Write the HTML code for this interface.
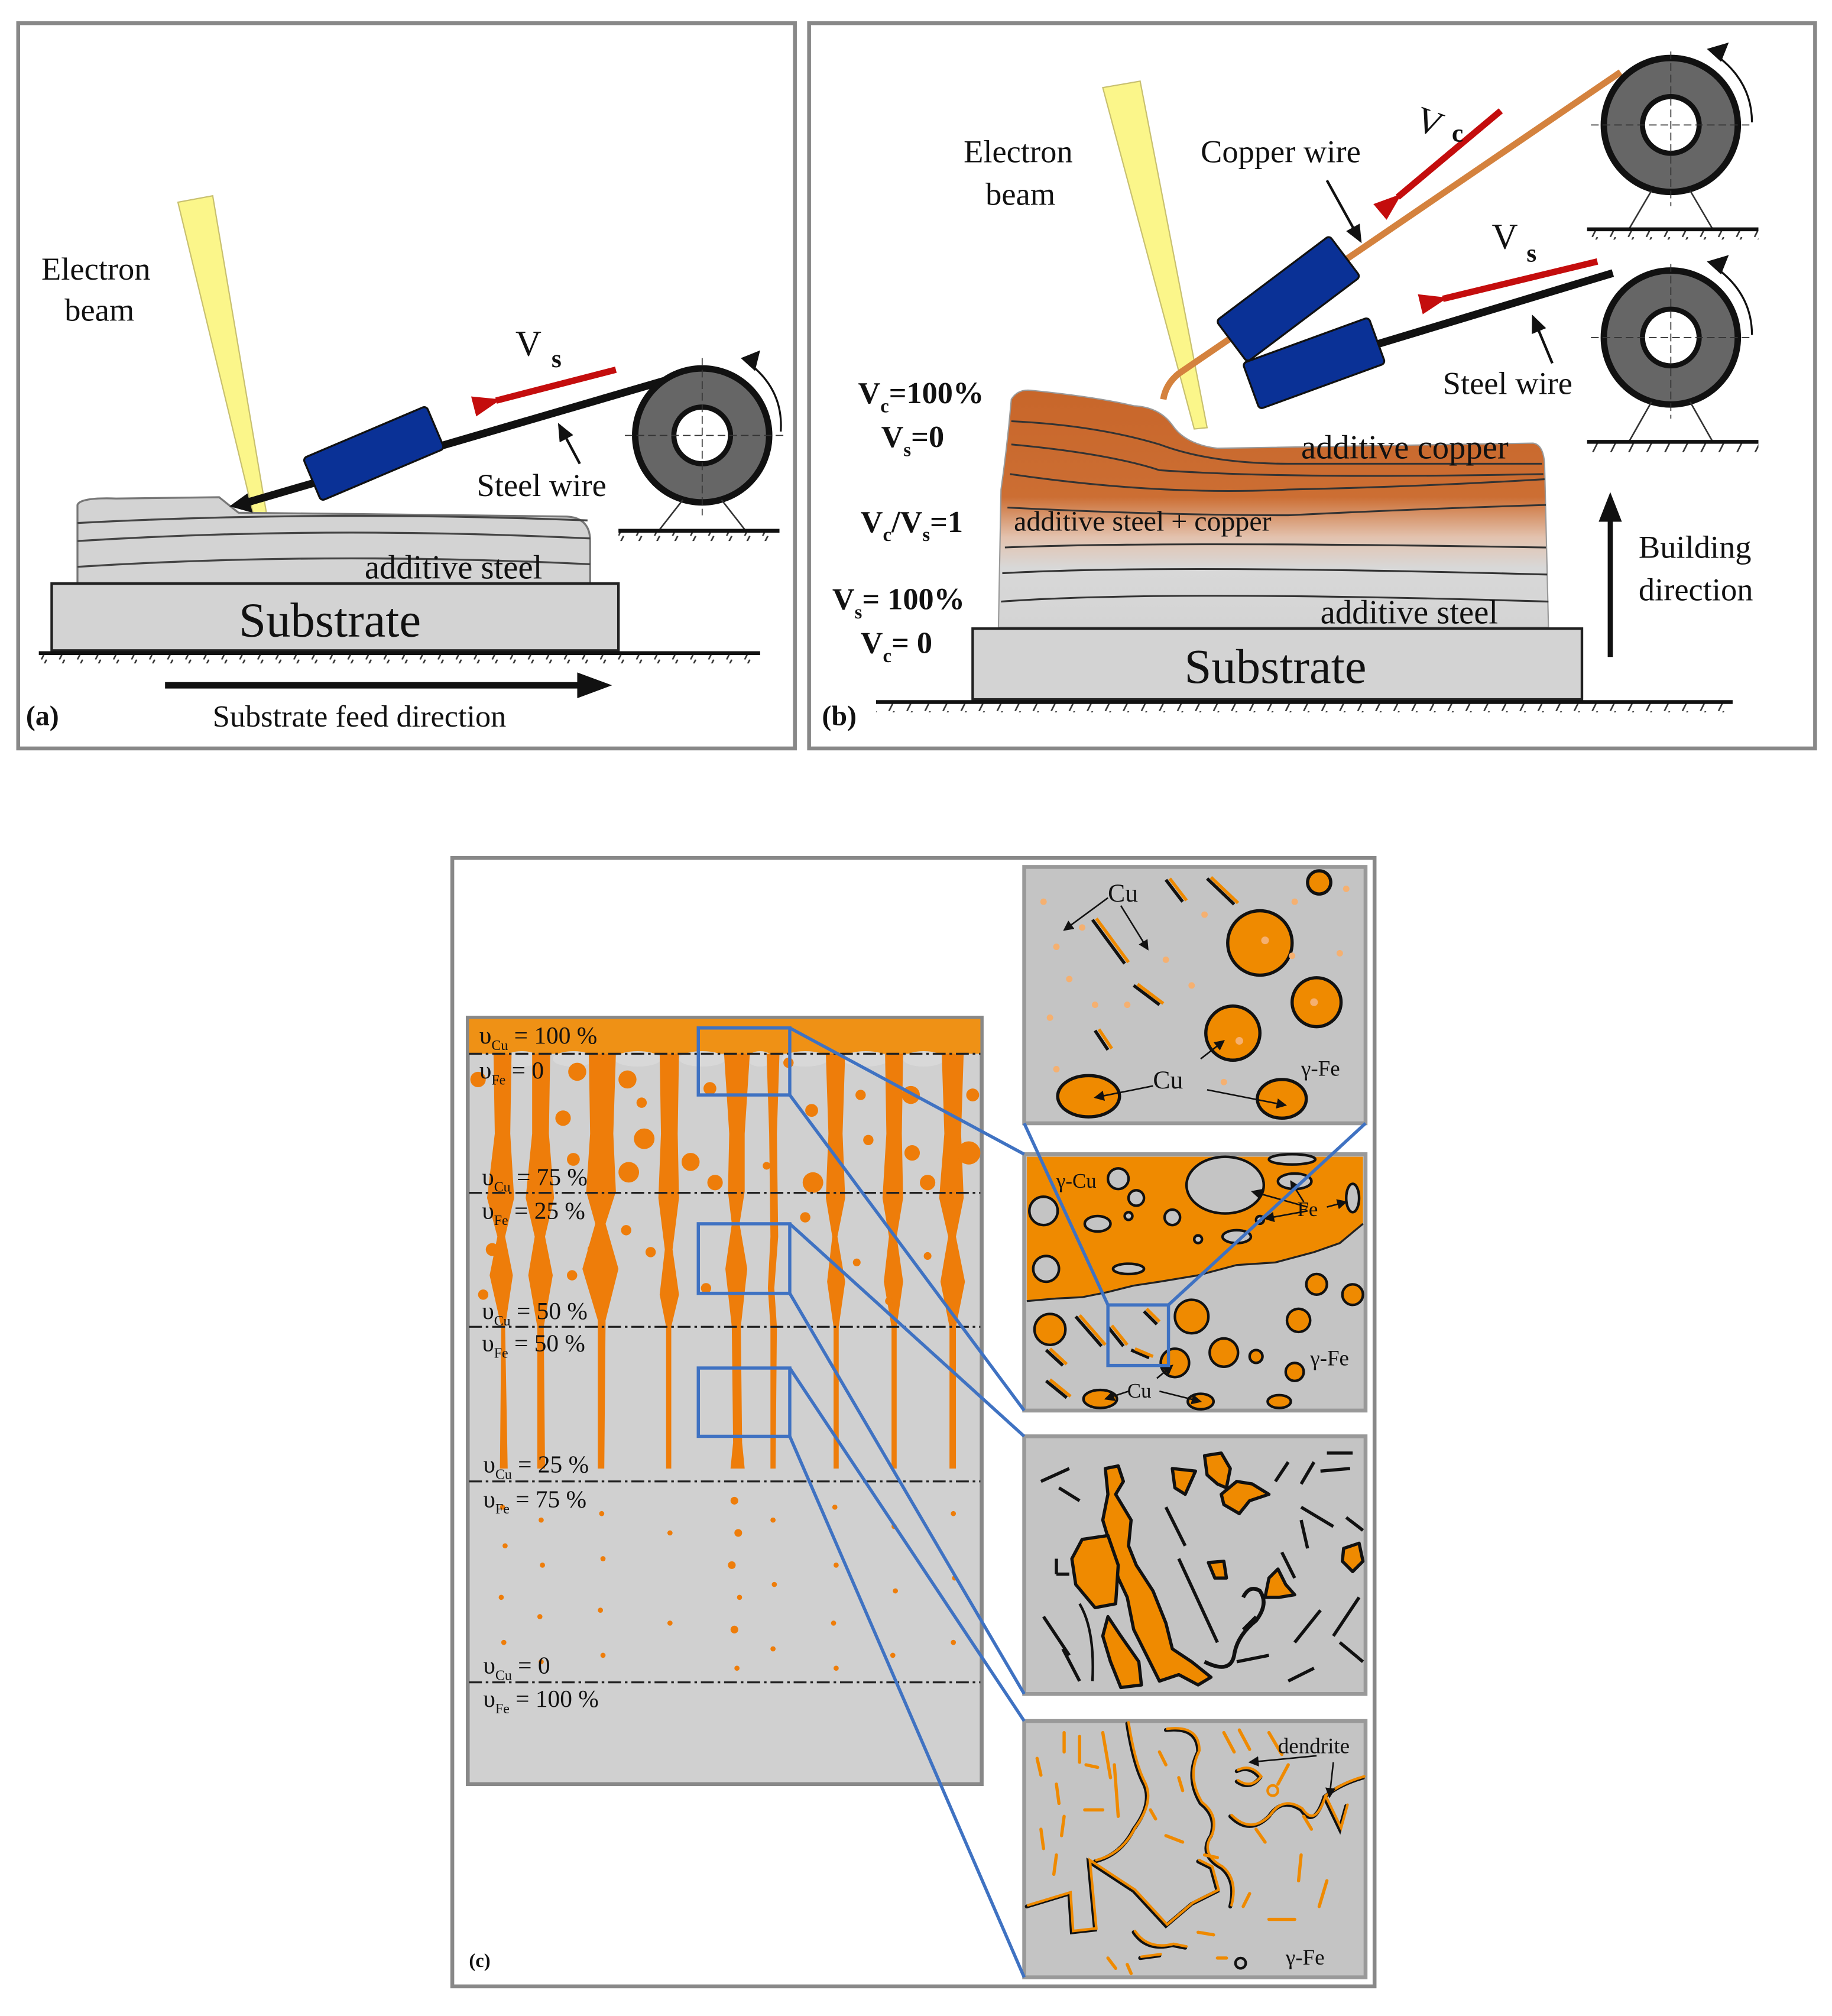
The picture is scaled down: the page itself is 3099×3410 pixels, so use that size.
<!DOCTYPE html>
<html><head><meta charset="utf-8">
<style>html,body{margin:0;padding:0;background:#fff}svg{display:block}
text{font-family:"Liberation Serif",serif;fill:#111}</style></head>
<body>
<svg xmlns="http://www.w3.org/2000/svg" width="3099" height="3410" viewBox="0 0 1422 1565">
<defs>
<pattern id="hatch" width="14" height="8" patternUnits="userSpaceOnUse"><line x1="8" y1="0" x2="4" y2="8" stroke="#333" stroke-width="1.2"/></pattern>
<linearGradient id="cu" x1="0" y1="0" x2="0" y2="1">
<stop offset="0" stop-color="#c8662a"/><stop offset="0.45" stop-color="#cc6e33"/><stop offset="0.62" stop-color="#e3c2ae"/><stop offset="0.75" stop-color="#d8d8d8"/><stop offset="1" stop-color="#d4d4d4"/></linearGradient>
<marker id="ak" markerWidth="8" markerHeight="8" refX="7" refY="4" orient="auto" markerUnits="userSpaceOnUse"><path d="M0,0 L8,4 L0,8 z" fill="#111"/></marker>
<marker id="ak2" markerWidth="14" markerHeight="12" refX="12" refY="6" orient="auto" markerUnits="userSpaceOnUse"><path d="M0,0 L14,6 L0,12 z" fill="#111"/></marker>
<marker id="ar" markerWidth="22" markerHeight="16" refX="4" refY="8" orient="auto" markerUnits="userSpaceOnUse"><path d="M22,0 L0,8 L22,16 z" fill="#c40d0d"/></marker>
</defs>
<rect width="1422" height="1565" fill="#fff"/>

<!-- ============ PANEL A ============ -->
<rect x="14" y="18" width="603" height="563" fill="#fff" stroke="#888" stroke-width="3"/>
<polygon points="138,157 165,152 207,400 197,401" fill="#fbf68a" stroke="#c8c070" stroke-width="1"/>
<text x="32" y="217" font-size="25">Electron</text>
<text x="50" y="249" font-size="25">beam</text>
<!-- steel layers -->
<path d="M60,455 L60,392 Q62,386 90,387 L170,386 L185,398 L440,401 Q458,402 458,420 L458,455 Z" fill="#d3d3d3" stroke="#777" stroke-width="1.5"/>
<path d="M60,420 Q250,408 458,418 M60,440 Q250,428 458,438 M60,406 Q250,396 456,404" fill="none" stroke="#444" stroke-width="1.5"/>
<text x="283" y="449" font-size="26">additive steel</text>
<rect x="40" y="453" width="440" height="52" fill="#d3d3d3" stroke="#222" stroke-width="2"/>
<text x="256" y="494" font-size="38" text-anchor="middle">Substrate</text>
<rect x="30" y="507" width="560" height="8" fill="url(#hatch)"/>
<line x1="30" y1="507" x2="590" y2="507" stroke="#111" stroke-width="3"/>
<line x1="128" y1="532" x2="452" y2="532" stroke="#111" stroke-width="5"/>
<polygon points="448,522 475,532 448,542" fill="#111"/>
<text x="165" y="564" font-size="24">Substrate feed direction</text>
<text x="20" y="563" font-size="22" font-weight="bold">(a)</text>
<!-- wire & nozzle -->
<line x1="185" y1="392" x2="545" y2="287" stroke="#111" stroke-width="6"/>
<polygon points="178,393 192,383 196,398" fill="#111"/>
<g transform="translate(290,352) rotate(-23)"><rect x="-52" y="-18" width="104" height="36" rx="3" fill="#0a3196" stroke="#111" stroke-width="1.5"/></g>
<circle cx="545" cy="338" r="52" fill="#666" stroke="#111" stroke-width="5"/>
<circle cx="545" cy="338" r="22" fill="#fff" stroke="#111" stroke-width="4"/>
<line x1="485" y1="338" x2="610" y2="338" stroke="#333" stroke-width="0.8" stroke-dasharray="6,3"/>
<line x1="545" y1="278" x2="545" y2="400" stroke="#333" stroke-width="0.8" stroke-dasharray="6,3"/>
<path d="M530,388 L512,411 M560,388 L578,411" stroke="#333" stroke-width="1.2"/>
<rect x="480" y="412" width="125" height="8" fill="url(#hatch)"/>
<line x1="480" y1="412" x2="605" y2="412" stroke="#111" stroke-width="3"/>
<path d="M585,285 Q608,305 606,335" fill="none" stroke="#111" stroke-width="1.5"/>
<polygon points="575,278 590,272 586,288" fill="#111"/>
<line x1="478" y1="287" x2="385" y2="311" stroke="#c40d0d" stroke-width="5" marker-end="url(#ar)"/>
<text x="400" y="276" font-size="28">V</text><text x="428" y="285" font-size="20" font-weight="bold">s</text>
<line x1="450" y1="360" x2="434" y2="330" stroke="#111" stroke-width="2" marker-end="url(#ak2)"/>
<text x="370" y="385" font-size="25">Steel wire</text>

<!-- ============ PANEL B ============ -->
<rect x="628" y="18" width="781" height="563" fill="#fff" stroke="#888" stroke-width="3"/>
<polygon points="856,68 885,63 937,332 927,333" fill="#fbf68a" stroke="#c8c070" stroke-width="1"/>
<text x="748" y="126" font-size="25">Electron</text>
<text x="765" y="159" font-size="25">beam</text>
<!-- deposit -->
<path d="M775,487 L777,380 Q782,345 785,310 Q790,302 800,303 Q850,308 880,315 Q900,316 910,330 Q920,345 945,348 L1190,344 Q1198,345 1199,360 L1202,487 Z" fill="url(#cu)" stroke="#999" stroke-width="1"/>
<g fill="none" stroke="#333" stroke-width="1.4">
<path d="M785,327 Q850,330 900,345 Q940,360 1000,360 L1197,360"/>
<path d="M785,345 Q860,352 900,365 Q1000,372 1198,368"/>
<path d="M784,368 Q900,385 1000,380 Q1100,378 1199,372"/>
<path d="M782,394 Q900,400 1000,400 Q1100,395 1200,392"/>
<path d="M780,425 Q900,420 1200,425"/>
<path d="M778,445 Q900,438 1201,446"/>
<path d="M777,467 Q900,458 1202,467"/>
</g>
<text x="1010" y="356" font-size="26">additive copper</text>
<text x="787" y="412" font-size="22" fill="#333">additive steel + copper</text>
<text x="1025" y="484" font-size="26">additive steel</text>
<rect x="755" y="488" width="473" height="55" fill="#d3d3d3" stroke="#222" stroke-width="2"/>
<text x="990" y="530" font-size="38" text-anchor="middle">Substrate</text>
<rect x="680" y="545" width="665" height="8" fill="url(#hatch)"/>
<line x1="680" y1="545" x2="1345" y2="545" stroke="#111" stroke-width="3"/>
<text x="638" y="563" font-size="22" font-weight="bold">(b)</text>
<!-- left labels -->
<g font-size="24" font-weight="bold">
<text x="666" y="313">V<tspan font-size="15" dy="7">c</tspan><tspan dy="-7">=100%</tspan></text>
<text x="684" y="347">V<tspan font-size="15" dy="7">s</tspan><tspan dy="-7">=0</tspan></text>
<text x="668" y="413">V<tspan font-size="15" dy="7">c</tspan><tspan dy="-7">/V</tspan><tspan font-size="15" dy="7">s</tspan><tspan dy="-7">=1</tspan></text>
<text x="646" y="473">V<tspan font-size="15" dy="7">s</tspan><tspan dy="-7">= 100%</tspan></text>
<text x="668" y="507">V<tspan font-size="15" dy="7">c</tspan><tspan dy="-7">= 0</tspan></text>
</g>
<!-- building direction -->
<line x1="1250" y1="510" x2="1250" y2="400" stroke="#111" stroke-width="4"/>
<polygon points="1241,405 1250,382 1259,405" fill="#111"/>
<text x="1272" y="433" font-size="25">Building</text>
<text x="1272" y="466" font-size="25">direction</text>
<!-- wires -->
<path d="M903,310 Q905,298 915,290 L1258,56" fill="none" stroke="#d4823e" stroke-width="5"/>
<line x1="1020" y1="282" x2="1252" y2="212" stroke="#111" stroke-width="6"/>
<g transform="translate(1000,232) rotate(-37)"><rect x="-55" y="-20" width="110" height="40" rx="3" fill="#0a3196" stroke="#111" stroke-width="1.5"/></g>
<g transform="translate(1020,282) rotate(-20)"><rect x="-52" y="-19" width="104" height="38" rx="3" fill="#0a3196" stroke="#111" stroke-width="1.5"/></g>
<!-- wheels -->
<g>
<circle cx="1297" cy="97" r="52" fill="#666" stroke="#111" stroke-width="5"/>
<circle cx="1297" cy="97" r="22" fill="#fff" stroke="#111" stroke-width="4"/>
<line x1="1235" y1="97" x2="1360" y2="97" stroke="#333" stroke-width="0.8" stroke-dasharray="6,3"/>
<line x1="1297" y1="40" x2="1297" y2="160" stroke="#333" stroke-width="0.8" stroke-dasharray="6,3"/>
<path d="M1282,148 L1265,177 M1312,148 L1329,177" stroke="#333" stroke-width="1.2"/>
<rect x="1232" y="178" width="133" height="8" fill="url(#hatch)"/>
<line x1="1232" y1="178" x2="1365" y2="178" stroke="#111" stroke-width="3"/>
<path d="M1335,45 Q1360,65 1360,95" fill="none" stroke="#111" stroke-width="1.5"/>
<polygon points="1325,38 1342,33 1336,48" fill="#111"/>
</g>
<g>
<circle cx="1297" cy="262" r="52" fill="#666" stroke="#111" stroke-width="5"/>
<circle cx="1297" cy="262" r="22" fill="#fff" stroke="#111" stroke-width="4"/>
<line x1="1235" y1="262" x2="1360" y2="262" stroke="#333" stroke-width="0.8" stroke-dasharray="6,3"/>
<line x1="1297" y1="205" x2="1297" y2="325" stroke="#333" stroke-width="0.8" stroke-dasharray="6,3"/>
<path d="M1282,312 L1265,342 M1312,312 L1329,342" stroke="#333" stroke-width="1.2"/>
<rect x="1232" y="343" width="133" height="8" fill="url(#hatch)"/>
<line x1="1232" y1="343" x2="1365" y2="343" stroke="#111" stroke-width="3"/>
<path d="M1335,210 Q1360,230 1360,260" fill="none" stroke="#111" stroke-width="1.5"/>
<polygon points="1325,203 1342,198 1336,213" fill="#111"/>
</g>
<line x1="1165" y1="86" x2="1085" y2="153" stroke="#c40d0d" stroke-width="5" marker-end="url(#ar)"/>
<line x1="1240" y1="203" x2="1120" y2="232" stroke="#c40d0d" stroke-width="5" marker-end="url(#ar)"/>
<text x="1097" y="100" font-size="28" transform="rotate(20 1097 100)">V</text><text x="1127" y="110" font-size="20" font-weight="bold">c</text>
<text x="1158" y="193" font-size="28">V</text><text x="1185" y="203" font-size="20" font-weight="bold">s</text>
<text x="932" y="126" font-size="25">Copper wire</text>
<line x1="1030" y1="140" x2="1056" y2="187" stroke="#111" stroke-width="2" marker-end="url(#ak2)"/>
<text x="1120" y="306" font-size="25">Steel wire</text>
<line x1="1205" y1="282" x2="1190" y2="246" stroke="#111" stroke-width="2" marker-end="url(#ak2)"/>

<!-- ============ PANEL C ============ -->
<rect x="351" y="666" width="716" height="876" fill="#fff" stroke="#888" stroke-width="3"/>
<rect x="363" y="790" width="399" height="595" fill="#d0d0d0" stroke="#888" stroke-width="3"/>
<rect x="364" y="791" width="397" height="27" fill="#ef9115"/>
<!-- scalloped gray under band -->
<g fill="#d8d8d8">
<ellipse cx="405" cy="822" rx="14" ry="6"/><ellipse cx="445" cy="822" rx="16" ry="6"/><ellipse cx="495" cy="822" rx="18" ry="6"/>
<ellipse cx="545" cy="822" rx="18" ry="6"/><ellipse cx="590" cy="822" rx="10" ry="6"/><ellipse cx="625" cy="822" rx="18" ry="6"/>
<ellipse cx="672" cy="822" rx="18" ry="6"/><ellipse cx="717" cy="822" rx="16" ry="6"/>
</g>
<!-- dendrite columns -->
<g fill="#ee7d0a">
<path d="M383,818 L397,818 L396,880 L399,930 L392,960 L398,990 L392,1030 L394,1140 L388,1140 L389,1030 L380,990 L386,960 L378,930 L384,880 Z"/>
<path d="M413,818 L427,818 L426,880 L430,930 L423,960 L429,990 L422,1030 L423,1140 L417,1140 L417,1030 L410,990 L415,960 L408,930 L413,880 Z"/>
<path d="M457,818 L478,818 L476,880 L478,925 L470,950 L480,985 L470,1025 L469,1140 L464,1140 L464,1025 L452,985 L462,950 L455,925 L458,880 Z"/>
<path d="M512,818 L527,818 L526,880 L527,930 L522,970 L527,1005 L521,1030 L521,1140 L517,1140 L517,1030 L512,1005 L516,970 L511,930 L513,880 Z"/>
<path d="M562,818 L582,818 L578,880 L578,925 L574,950 L580,985 L575,1030 L576,1120 L578,1140 L567,1140 L569,1120 L568,1030 L563,985 L568,950 L565,925 L566,880 Z"/>
<path d="M595,818 L605,818 L603,880 L604,960 L601,1000 L603,1030 L602,1140 L598,1140 L598,1030 L596,1000 L598,960 L597,880 Z"/>
<path d="M641,818 L656,818 L654,880 L656,930 L650,960 L656,995 L651,1030 L651,1140 L647,1140 L647,1030 L642,995 L646,960 L641,930 L643,880 Z"/>
<path d="M687,818 L701,818 L700,880 L701,930 L696,960 L701,995 L696,1030 L696,1140 L692,1140 L692,1030 L686,995 L690,960 L685,930 L688,880 Z"/>
<path d="M731,818 L748,818 L746,880 L748,930 L742,960 L749,995 L742,1030 L742,1140 L737,1140 L737,1030 L730,995 L736,960 L729,930 L733,880 Z"/>
<circle cx="371" cy="838" r="6"/><circle cx="448" cy="832" r="7"/><circle cx="487" cy="838" r="7"/><circle cx="500" cy="884" r="8"/>
<circle cx="498" cy="856" r="4"/><circle cx="536" cy="902" r="7"/><circle cx="551" cy="845" r="5"/><circle cx="631" cy="918" r="8"/>
<circle cx="630" cy="862" r="5"/><circle cx="674" cy="885" r="4"/><circle cx="707" cy="850" r="7"/><circle cx="708" cy="895" r="6"/>
<circle cx="752" cy="895" r="9"/><circle cx="755" cy="850" r="5"/><circle cx="437" cy="868" r="6"/><circle cx="445" cy="900" r="5"/>
<circle cx="488" cy="910" r="8"/><circle cx="555" cy="918" r="6"/><circle cx="418" cy="875" r="4"/><circle cx="668" cy="850" r="4"/>
<circle cx="720" cy="918" r="6"/><circle cx="612" cy="825" r="4"/><circle cx="382" cy="970" r="5"/><circle cx="486" cy="955" r="4"/>
<circle cx="444" cy="990" r="4"/><circle cx="505" cy="972" r="4"/><circle cx="548" cy="1000" r="4"/><circle cx="625" cy="945" r="4"/>
<circle cx="665" cy="980" r="3"/><circle cx="720" cy="975" r="3"/><circle cx="690" cy="1010" r="3"/><circle cx="375" cy="1005" r="4"/>
<circle cx="595" cy="905" r="3"/><circle cx="460" cy="970" r="4"/>
</g>
<!-- sparse dots lower zone -->
<g fill="#ee7d0a">
<circle cx="390" cy="1170" r="2"/><circle cx="392" cy="1200" r="2"/><circle cx="389" cy="1240" r="2"/><circle cx="391" cy="1275" r="2"/>
<circle cx="420" cy="1180" r="2"/><circle cx="421" cy="1215" r="2"/><circle cx="419" cy="1255" r="2"/><circle cx="420" cy="1290" r="2"/>
<circle cx="467" cy="1175" r="2"/><circle cx="468" cy="1210" r="2"/><circle cx="466" cy="1250" r="2"/><circle cx="468" cy="1285" r="2"/>
<circle cx="520" cy="1190" r="2"/><circle cx="520" cy="1260" r="2"/>
<circle cx="570" cy="1165" r="3"/><circle cx="573" cy="1190" r="3"/><circle cx="568" cy="1215" r="3"/><circle cx="574" cy="1240" r="2"/><circle cx="570" cy="1265" r="3"/><circle cx="572" cy="1295" r="2"/>
<circle cx="600" cy="1180" r="2"/><circle cx="601" cy="1230" r="2"/><circle cx="600" cy="1280" r="2"/>
<circle cx="648" cy="1170" r="2"/><circle cx="649" cy="1215" r="2"/><circle cx="647" cy="1260" r="2"/><circle cx="649" cy="1295" r="2"/>
<circle cx="694" cy="1185" r="2"/><circle cx="695" cy="1235" r="2"/><circle cx="693" cy="1285" r="2"/>
<circle cx="740" cy="1175" r="2"/><circle cx="741" cy="1225" r="2"/><circle cx="740" cy="1275" r="2"/>
</g>
<g stroke="#222" stroke-width="1.5" stroke-dasharray="10,3,2,3">
<line x1="364" y1="818" x2="761" y2="818"/><line x1="364" y1="926" x2="761" y2="926"/>
<line x1="364" y1="1030" x2="761" y2="1030"/><line x1="364" y1="1150" x2="761" y2="1150"/>
<line x1="364" y1="1306" x2="761" y2="1306"/>
</g>
<g font-size="19" fill="#222">
<text x="372" y="810">υ<tspan font-size="11" dy="5">Cu</tspan><tspan dy="-5"> = 100 %</tspan></text>
<text x="372" y="837">υ<tspan font-size="11" dy="5">Fe</tspan><tspan dy="-5"> = 0</tspan></text>
<text x="374" y="920">υ<tspan font-size="11" dy="5">Cu</tspan><tspan dy="-5"> = 75 %</tspan></text>
<text x="374" y="946">υ<tspan font-size="11" dy="5">Fe</tspan><tspan dy="-5"> = 25 %</tspan></text>
<text x="374" y="1024">υ<tspan font-size="11" dy="5">Cu</tspan><tspan dy="-5"> = 50 %</tspan></text>
<text x="374" y="1049">υ<tspan font-size="11" dy="5">Fe</tspan><tspan dy="-5"> = 50 %</tspan></text>
<text x="375" y="1143">υ<tspan font-size="11" dy="5">Cu</tspan><tspan dy="-5"> = 25 %</tspan></text>
<text x="375" y="1170">υ<tspan font-size="11" dy="5">Fe</tspan><tspan dy="-5"> = 75 %</tspan></text>
<text x="375" y="1299">υ<tspan font-size="11" dy="5">Cu</tspan><tspan dy="-5"> = 0</tspan></text>
<text x="375" y="1325">υ<tspan font-size="11" dy="5">Fe</tspan><tspan dy="-5"> = 100 %</tspan></text>
</g>
<text x="364" y="1527" font-size="15" font-weight="bold">(c)</text>

<!-- Right panels -->
<!-- P1 -->
<rect x="795" y="673" width="265" height="199" fill="#c4c4c4" stroke="#999" stroke-width="3"/>
<g fill="#ef8a00" stroke="#111" stroke-width="2.5">
<circle cx="978" cy="732" r="25"/><circle cx="1022" cy="778" r="19"/><circle cx="957" cy="802" r="21"/>
<ellipse cx="845" cy="851" rx="24" ry="16"/><ellipse cx="995" cy="853" rx="19" ry="15"/><circle cx="1024" cy="685" r="9"/>
</g>
<g fill="#f5b070"><circle cx="982" cy="730" r="3"/><circle cx="1020" cy="778" r="3"/><circle cx="962" cy="808" r="3"/>
<circle cx="810" cy="700" r="2.5"/><circle cx="820" cy="735" r="2.5"/><circle cx="840" cy="720" r="2.5"/><circle cx="830" cy="760" r="2.5"/>
<circle cx="815" cy="790" r="2.5"/><circle cx="850" cy="780" r="2.5"/><circle cx="905" cy="745" r="2.5"/><circle cx="925" cy="765" r="2.5"/>
<circle cx="935" cy="710" r="2.5"/><circle cx="1005" cy="700" r="2.5"/><circle cx="1045" cy="690" r="2.5"/><circle cx="1040" cy="740" r="2.5"/>
<circle cx="820" cy="830" r="2.5"/><circle cx="875" cy="780" r="2.5"/><circle cx="1003" cy="742" r="2.5"/><circle cx="950" cy="840" r="2.5"/></g>
<g stroke-width="2.5">
<line x1="848" y1="714" x2="873" y2="748" stroke="#111"/><line x1="851" y1="713" x2="876" y2="747" stroke="#ef8a00"/>
<line x1="905" y1="683" x2="918" y2="700" stroke="#111"/><line x1="908" y1="682" x2="921" y2="699" stroke="#ef8a00"/>
<line x1="937" y1="682" x2="958" y2="702" stroke="#111"/><line x1="940" y1="681" x2="961" y2="701" stroke="#ef8a00"/>
<line x1="880" y1="765" x2="900" y2="780" stroke="#111"/><line x1="883" y1="764" x2="903" y2="779" stroke="#ef8a00"/>
<line x1="850" y1="800" x2="860" y2="815" stroke="#111"/><line x1="853" y1="799" x2="863" y2="814" stroke="#ef8a00"/>
</g>
<g stroke="#111" stroke-width="1.2" fill="none">
<line x1="860" y1="697" x2="826" y2="722" marker-end="url(#ak)"/><line x1="870" y1="703" x2="891" y2="737" marker-end="url(#ak)"/>
<line x1="932" y1="822" x2="950" y2="808" marker-end="url(#ak)"/><line x1="895" y1="843" x2="850" y2="852" marker-end="url(#ak)"/>
<line x1="937" y1="846" x2="998" y2="858" marker-end="url(#ak)"/>
</g>
<text x="860" y="700" font-size="20">Cu</text>
<text x="895" y="845" font-size="20">Cu</text>
<text x="1010" y="835" font-size="17" fill="#3a5a22">γ-Fe</text>

<!-- P2 -->
<rect x="795" y="896" width="265" height="199" fill="#c4c4c4" stroke="#999" stroke-width="3"/>
<path d="M797,898 L1058,898 L1058,950 L1040,965 L1020,972 L990,980 L960,982 L930,990 L900,995 L880,998 L860,1003 L840,1007 L820,1008 L797,1010 Z" fill="#ef8a00"/>
<path d="M797,1010 L820,1008 L840,1007 L860,1003 L880,998 L900,995 L930,990 L960,982 L990,980 L1020,972 L1040,965 L1058,950" fill="none" stroke="#222" stroke-width="1.5"/>
<g fill="#c4c4c4" stroke="#111" stroke-width="2">
<circle cx="868" cy="915" r="8"/><circle cx="810" cy="940" r="11"/><circle cx="882" cy="930" r="6"/><circle cx="910" cy="945" r="6"/>
<circle cx="812" cy="985" r="10"/><ellipse cx="852" cy="950" rx="10" ry="6"/><circle cx="876" cy="944" r="3"/>
<ellipse cx="951" cy="920" rx="30" ry="22"/><ellipse cx="1003" cy="900" rx="18" ry="4"/><ellipse cx="1005" cy="917" rx="13" ry="6"/>
<ellipse cx="1050" cy="930" rx="5" ry="11"/><circle cx="978" cy="947" r="3"/><ellipse cx="960" cy="960" rx="11" ry="5"/>
<ellipse cx="876" cy="985" rx="12" ry="4"/><circle cx="930" cy="962" r="3"/>
</g>
<g fill="#ef8a00" stroke="#111" stroke-width="2">
<circle cx="815" cy="1032" r="12"/><circle cx="925" cy="1022" r="13"/><circle cx="912" cy="1058" r="11"/>
<circle cx="950" cy="1050" r="11"/><circle cx="975" cy="1053" r="5"/><circle cx="1005" cy="1065" r="7"/>
<circle cx="1008" cy="1025" r="9"/><circle cx="1022" cy="997" r="8"/><circle cx="1050" cy="1005" r="8"/>
<ellipse cx="854" cy="1086" rx="13" ry="7"/><ellipse cx="932" cy="1088" rx="10" ry="6"/><ellipse cx="993" cy="1088" rx="9" ry="5"/>
</g>
<g stroke-width="2.5">
<line x1="812" y1="1048" x2="825" y2="1060" stroke="#111"/><line x1="815" y1="1047" x2="828" y2="1059" stroke="#ef8a00"/>
<line x1="835" y1="1022" x2="855" y2="1045" stroke="#111"/><line x1="838" y1="1021" x2="858" y2="1044" stroke="#ef8a00"/>
<line x1="812" y1="1072" x2="828" y2="1085" stroke="#111"/><line x1="815" y1="1071" x2="831" y2="1084" stroke="#ef8a00"/>
<line x1="860" y1="1030" x2="872" y2="1045" stroke="#111"/><line x1="863" y1="1029" x2="875" y2="1044" stroke="#ef8a00"/>
<line x1="878" y1="1048" x2="892" y2="1054" stroke="#111"/><line x1="881" y1="1047" x2="895" y2="1053" stroke="#ef8a00"/>
<line x1="888" y1="1018" x2="898" y2="1028" stroke="#111"/><line x1="890" y1="1016" x2="900" y2="1026" stroke="#ef8a00"/>
</g>
<g stroke="#111" stroke-width="1.2" fill="none">
<line x1="1015" y1="937" x2="972" y2="925" marker-end="url(#ak)"/><line x1="1015" y1="940" x2="982" y2="946" marker-end="url(#ak)"/>
<line x1="1012" y1="933" x2="1002" y2="917" marker-end="url(#ak)"/><line x1="1030" y1="937" x2="1045" y2="933" marker-end="url(#ak)"/>
<line x1="876" y1="1080" x2="858" y2="1086" marker-end="url(#ak)"/><line x1="900" y1="1080" x2="932" y2="1088" marker-end="url(#ak)"/>
<line x1="898" y1="1070" x2="910" y2="1060" marker-end="url(#ak)"/>
</g>
<text x="1007" y="944" font-size="16">Fe</text>
<text x="820" y="922" font-size="16">γ-Cu</text>
<text x="875" y="1085" font-size="16">Cu</text>
<text x="1017" y="1060" font-size="17" fill="#3a5a22">γ-Fe</text>
<rect x="860" y="1013" width="47" height="47" fill="none" stroke="#3f72c2" stroke-width="2.5"/>

<!-- P3 -->
<rect x="795" y="1115" width="265" height="200" fill="#c4c4c4" stroke="#999" stroke-width="3"/>
<g fill="#ef8a00" stroke="#111" stroke-width="2.5" stroke-linejoin="round">
<path d="M858,1140 L868,1138 L872,1150 L866,1160 L878,1180 L876,1200 L882,1215 L895,1235 L905,1260 L910,1280 L925,1290 L940,1302 L930,1308 L915,1300 L900,1305 L890,1285 L880,1265 L875,1240 L868,1225 L862,1200 L856,1180 L860,1160 Z"/>
<path d="M840,1195 L860,1192 L868,1215 L866,1245 L850,1248 L835,1230 L832,1210 Z"/>
<path d="M860,1255 L870,1270 L884,1290 L886,1308 L870,1310 L862,1290 L856,1270 Z"/>
<path d="M910,1140 L928,1142 L920,1160 L912,1155 Z"/>
<path d="M935,1130 L948,1128 L955,1140 L952,1155 L945,1152 L937,1145 Z"/>
<path d="M948,1160 L960,1150 L972,1152 L985,1160 L970,1165 L962,1175 L950,1168 Z"/>
<path d="M1043,1202 L1055,1198 L1058,1212 L1050,1220 L1042,1212 Z"/>
<path d="M938,1213 L950,1212 L952,1225 L943,1225 Z"/>
<path d="M985,1225 L992,1218 L998,1230 L1005,1238 L993,1240 L982,1240 Z"/>
</g>
<g stroke="#111" stroke-width="2.5">
<line x1="808" y1="1150" x2="830" y2="1140"/><line x1="822" y1="1155" x2="838" y2="1165"/>
<line x1="810" y1="1255" x2="830" y2="1285"/><line x1="825" y1="1280" x2="838" y2="1305"/>
<line x1="905" y1="1170" x2="920" y2="1200"/><line x1="915" y1="1210" x2="945" y2="1275"/>
<line x1="1000" y1="1135" x2="990" y2="1150"/><line x1="1020" y1="1135" x2="1010" y2="1152"/>
<line x1="1030" y1="1128" x2="1050" y2="1128"/><line x1="1025" y1="1142" x2="1048" y2="1140"/>
<line x1="1010" y1="1170" x2="1035" y2="1185"/><line x1="1045" y1="1178" x2="1058" y2="1188"/>
<line x1="1025" y1="1250" x2="1005" y2="1275"/><line x1="1055" y1="1240" x2="1035" y2="1270"/>
<line x1="1040" y1="1275" x2="1058" y2="1290"/><line x1="1020" y1="1295" x2="1000" y2="1305"/>
<line x1="995" y1="1205" x2="1005" y2="1225"/><line x1="1010" y1="1180" x2="1015" y2="1202"/>
<line x1="820" y1="1210" x2="820" y2="1222"/><line x1="820" y1="1222" x2="830" y2="1222"/>
<line x1="960" y1="1290" x2="985" y2="1285"/><line x1="965" y1="1265" x2="975" y2="1255"/>
</g>
<path d="M935,1290 Q955,1300 958,1285 Q960,1270 975,1258 Q985,1245 978,1235 Q970,1230 965,1240" fill="none" stroke="#111" stroke-width="3"/>
<path d="M838,1245 Q850,1265 848,1305" fill="none" stroke="#111" stroke-width="2"/>

<!-- P4 -->
<rect x="795" y="1336" width="265" height="199" fill="#c4c4c4" stroke="#999" stroke-width="3"/>
<g fill="none" stroke="#111" stroke-width="3" stroke-linecap="round">
<path id="d1" d="M797,1480 L830,1470 L832,1500 L850,1498 L845,1445 L880,1468 L905,1495 L925,1478 L945,1468 L940,1450 L930,1445"/>
<path id="d2" d="M875,1338 Q880,1370 888,1385 Q895,1400 880,1420 Q870,1440 850,1445"/>
<path id="d3" d="M905,1343 Q930,1340 930,1360 Q920,1380 932,1400 Q945,1410 940,1425 Q930,1440 948,1450 Q960,1460 955,1480"/>
<path id="d4" d="M955,1410 Q970,1425 985,1410 Q995,1395 1010,1405 Q1020,1420 1028,1395 Q1040,1385 1058,1380"/>
<path id="d5" d="M1028,1395 L1040,1420 L1045,1402"/>
<path id="d6" d="M880,1500 Q890,1515 910,1510 L920,1512 M885,1520 L900,1518"/>
<path id="d7" d="M960,1375 Q970,1370 978,1380 Q970,1390 960,1383"/>
</g>
<g fill="none" stroke="#ef8a00" stroke-width="2" stroke-linecap="round">
<use href="#d1" transform="translate(1,-1)"/><use href="#d2" transform="translate(1,-1)"/><use href="#d3" transform="translate(1,-1)"/>
<use href="#d4" transform="translate(1,-1)"/><use href="#d5" transform="translate(1,-1)"/><use href="#d6" transform="translate(1,-1)"/>
<use href="#d7" transform="translate(1,-1)"/>
</g>
<g stroke="#ef8a00" stroke-width="2.5" stroke-linecap="round">
<line x1="826" y1="1345" x2="826" y2="1360"/><line x1="838" y1="1348" x2="838" y2="1368"/><line x1="856" y1="1345" x2="862" y2="1380"/>
<line x1="805" y1="1365" x2="808" y2="1378"/><line x1="820" y1="1385" x2="822" y2="1400"/><line x1="843" y1="1370" x2="852" y2="1372"/>
<line x1="808" y1="1420" x2="810" y2="1435"/><line x1="826" y1="1410" x2="824" y2="1425"/><line x1="842" y1="1405" x2="856" y2="1405"/>
<line x1="865" y1="1370" x2="868" y2="1410"/><line x1="820" y1="1440" x2="818" y2="1455"/><line x1="900" y1="1360" x2="905" y2="1370"/>
<line x1="915" y1="1380" x2="918" y2="1390"/><line x1="893" y1="1405" x2="897" y2="1412"/><line x1="905" y1="1425" x2="918" y2="1430"/>
<line x1="950" y1="1345" x2="958" y2="1360"/><line x1="962" y1="1343" x2="970" y2="1358"/><line x1="985" y1="1345" x2="995" y2="1362"/>
<line x1="1000" y1="1370" x2="992" y2="1385"/><line x1="1012" y1="1410" x2="1018" y2="1420"/><line x1="1010" y1="1440" x2="1008" y2="1460"/>
<line x1="1030" y1="1460" x2="1024" y2="1480"/><line x1="985" y1="1490" x2="1005" y2="1490"/><line x1="970" y1="1470" x2="965" y2="1480"/>
<line x1="930" y1="1500" x2="942" y2="1502"/><line x1="860" y1="1520" x2="866" y2="1528"/><line x1="875" y1="1525" x2="878" y2="1532"/>
<line x1="945" y1="1520" x2="952" y2="1520"/><line x1="975" y1="1420" x2="982" y2="1430"/><line x1="935" y1="1440" x2="945" y2="1442"/>
</g>
<circle cx="963" cy="1524" r="4" fill="none" stroke="#111" stroke-width="2"/>
<circle cx="988" cy="1390" r="4" fill="none" stroke="#ef8a00" stroke-width="2"/>
<line x1="1022" y1="1363" x2="970" y2="1368" stroke="#111" stroke-width="1.2" marker-end="url(#ak)"/>
<line x1="1035" y1="1368" x2="1032" y2="1395" stroke="#111" stroke-width="1.2" marker-end="url(#ak)"/>
<text x="992" y="1361" font-size="17">dendrite</text>
<text x="998" y="1525" font-size="17" fill="#3a5a22">γ-Fe</text>

<!-- blue zoom boxes & connectors -->
<g fill="none" stroke="#3f72c2" stroke-width="2.5">
<rect x="542" y="798" width="71" height="52"/>
<rect x="542" y="950" width="71" height="54"/>
<rect x="542" y="1062" width="71" height="53"/>
<line x1="613" y1="798" x2="795" y2="896"/><line x1="613" y1="850" x2="795" y2="1095"/>
<line x1="613" y1="950" x2="795" y2="1115"/><line x1="613" y1="1004" x2="795" y2="1315"/>
<line x1="613" y1="1062" x2="795" y2="1336"/><line x1="613" y1="1115" x2="795" y2="1535"/>
<line x1="795" y1="872" x2="860" y2="1013"/><line x1="1060" y1="872" x2="907" y2="1013"/>
</g>
</svg>
</body></html>
